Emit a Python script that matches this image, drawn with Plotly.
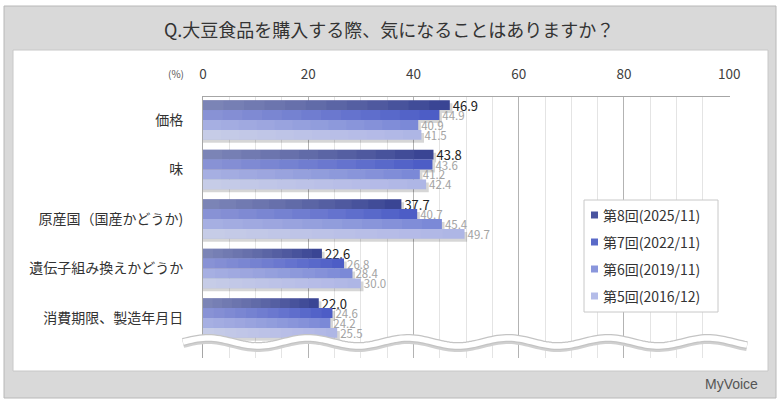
import numpy as np
import plotly.graph_objects as go

categories = ["価格", "味", "原産国（国産かどうか)", "遺伝子組み換えかどうか", "消費期限、製造年月日"]
series_names = ["第8回(2025/11)", "第7回(2022/11)", "第6回(2019/11)", "第5回(2016/12)"]
values_8 = [46.9, 43.8, 37.7, 22.6, 22.0]
values_7 = [44.9, 43.6, 40.7, 26.8, 24.6]
values_6 = [40.9, 41.2, 45.4, 28.4, 24.2]
values_5 = [41.5, 42.4, 49.7, 30.0, 25.5]
x_ticks = [0, 20, 40, 60, 80, 100]

series_values = [values_8, values_7, values_6, values_5]
colors = ["#323e90", "#4657c4", "#7685d6", "#abb3e4"]
legend_colors = ["#4a54a0", "#5a6ac8", "#8a96dc", "#b4bce8"]
text_colors = ["#222222", "#a3a3a3", "#a3a3a3", "#a3a3a3"]
text_sizes = [13, 11.5, 11.5, 11.5]

W, H = 780, 405
ML, MR, MT, MB = 203, 50, 97, 47
PW, PH = W - ML - MR, H - MT - MB


def px(x):
    return (x - ML) / PW


def py(y):
    return (H - MB - y) / PH


FONT = "Noto Sans CJK JP"
fig = go.Figure()

bar_w = 0.2
N_GRAD = 12
# drop shadows
for i, vals in enumerate(series_values):
    fig.add_trace(go.Bar(
        y=categories, x=[v + 0.5 for v in vals], orientation="h",
        width=bar_w, offset=-0.4 + bar_w * i + 0.06,
        marker=dict(color="rgba(0,0,0,0.16)", line=dict(width=0)),
        showlegend=False, hoverinfo="skip",
    ))

for i, (name, vals) in enumerate(zip(series_names, series_values)):
    fig.add_trace(go.Bar(
        y=categories, x=vals, orientation="h", name=name,
        width=bar_w, offset=-0.4 + bar_w * i,
        marker=dict(color=colors[i], line=dict(width=0)),
        text=[f"{v:.1f}" for v in vals], textposition="outside",
        textfont=dict(family=FONT, size=text_sizes[i], color=text_colors[i]),
        constraintext="none", cliponaxis=False, showlegend=False,
    ))
    # light-to-dark horizontal shading built from the same values
    for k in range(1, N_GRAD + 1):
        fig.add_trace(go.Bar(
            y=categories, x=[v * k / N_GRAD for v in vals], orientation="h",
            width=bar_w, offset=-0.4 + bar_w * i,
            marker=dict(color="rgba(255,255,255,0.04)", line=dict(width=0)),
            showlegend=False, hoverinfo="skip",
        ))

shapes = []
# outer gray frame
shapes.append(dict(type="rect", xref="paper", yref="paper", layer="below",
                   x0=px(4), x1=px(776), y0=py(6), y1=py(398),
                   fillcolor="#d9d9d9", line=dict(color="#b8b8b8", width=1)))
# inner white panel
shapes.append(dict(type="rect", xref="paper", yref="paper", layer="below",
                   x0=px(13), x1=px(768), y0=py(50), y1=py(371),
                   fillcolor="#ffffff", line=dict(color="#c8c8c8", width=1)))

# wavy break band
xs = np.linspace(183, 747, 200)
ys = 342 + 4 * np.sin(2 * np.pi * (xs - 183) / 100 + np.pi)
path = "M " + " L ".join(f"{px(a):.5f},{py(b):.5f}" for a, b in zip(xs, ys))
path_sh = "M " + " L ".join(f"{px(a):.5f},{py(b + 1.5):.5f}" for a, b in zip(xs, ys))
shapes.append(dict(type="path", xref="paper", yref="paper", layer="above", path=path_sh,
                   line=dict(color="#d0d0d0", width=9)))
shapes.append(dict(type="path", xref="paper", yref="paper", layer="above", path=path,
                   line=dict(color="#c4c4c4", width=8)))
shapes.append(dict(type="path", xref="paper", yref="paper", layer="above", path=path,
                   line=dict(color="#ffffff", width=5.5)))

annotations = [
    dict(text="Q.大豆食品を購入する際、気になることはありますか？", xref="paper", yref="paper",
         x=px(389), y=py(29), xanchor="center", yanchor="middle", showarrow=False,
         font=dict(family=FONT, size=18, color="#333333")),
    dict(text="(%)", xref="paper", yref="paper", x=px(186), y=py(74),
         xanchor="right", yanchor="middle", showarrow=False,
         font=dict(family=FONT, size=10, color="#555555")),
    dict(text="MyVoice", xref="paper", yref="paper", x=px(760), y=py(384),
         xanchor="right", yanchor="middle", showarrow=False,
         font=dict(family="Liberation Sans Narrow, Liberation Sans", size=14, color="#555555")),
]

# legend box drawn by hand
LX0, LX1, LY0, LY1 = 584, 718, 200, 312
shapes.append(dict(type="rect", xref="paper", yref="paper", layer="above",
                   x0=px(LX0), x1=px(LX1), y0=py(LY0), y1=py(LY1),
                   fillcolor="#ffffff", line=dict(color="#c8c8c8", width=1)))
for i, name in enumerate(series_names):
    yc = 215 + 27 * i
    shapes.append(dict(type="rect", xref="paper", yref="paper", layer="above",
                       x0=px(591), x1=px(598), y0=py(yc - 3.5), y1=py(yc + 3.5),
                       fillcolor=legend_colors[i], line=dict(width=0)))
    annotations.append(dict(text=name, xref="paper", yref="paper", x=px(601), y=py(yc),
                            xanchor="left", yanchor="middle", showarrow=False,
                            font=dict(family=FONT, size=14, color="#333333")))

fig.update_layout(
    width=W, height=H,
    margin=dict(l=ML, r=MR, t=MT, b=MB, autoexpand=False),
    paper_bgcolor="#ffffff", plot_bgcolor="rgba(0,0,0,0)",
    barmode="overlay", showlegend=False,
    shapes=shapes, annotations=annotations,
    font=dict(family=FONT, color="#333333"),
    xaxis=dict(range=[0, 100.15], side="top", tickvals=x_ticks,
               ticktext=[str(t) for t in x_ticks],
               tickfont=dict(family=FONT, size=13.5, color="#404040"),
               ticklabelstandoff=12, ticks="",
               showgrid=True, gridcolor="#b3b3b3", gridwidth=1,
               minor=dict(dtick=5, tick0=0, showgrid=True, gridcolor="#e4e4e4", gridwidth=1),
               showline=True, linecolor="#a6a6a6", linewidth=1, zeroline=False,
               fixedrange=True),
    yaxis=dict(range=[4.808, -0.465], tickfont=dict(family=FONT, size=14, color="#333333"),
               ticklabelstandoff=16, showline=True, linecolor="#a6a6a6", linewidth=1,
               showgrid=False, zeroline=False, ticks="", fixedrange=True),
)

fig.write_html("out.html", config={"displayModeBar": False},
               post_script="document.body.style.margin='0';document.body.style.overflow='hidden';")
